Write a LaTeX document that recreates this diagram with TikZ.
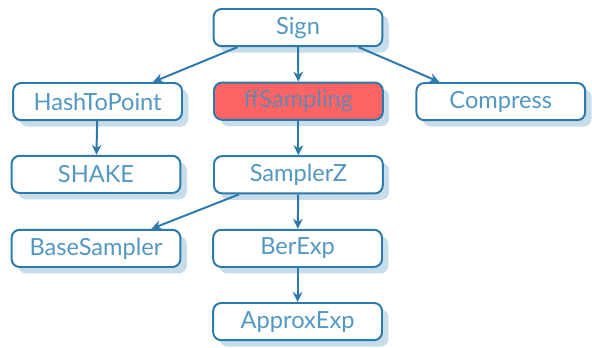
\documentclass[tikz,border=0pt]{standalone}
\usepackage{fontspec}
\setmainfont{Lato}
\usepackage{xcolor}
\usepackage{tikz}
\usetikzlibrary{arrows.meta,shadows}
\definecolor{EDGE}{HTML}{2B7AAB}
\definecolor{TXT}{HTML}{5298C3}
\definecolor{SHD}{HTML}{C7DDEA}
\definecolor{HOT}{HTML}{FF6464}
\definecolor{HOTTXT}{HTML}{6C84AE}

\begin{document}
\begin{tikzpicture}[
    fn/.style={draw=EDGE, fill=white, line width=1.4pt, rounded corners=0.2cm,
      minimum width=4.22cm, minimum height=0.93cm, inner sep=0pt,
      text=TXT, font=\fontsize{16.8}{19}\selectfont,
      drop shadow={shadow xshift=0.16cm, shadow yshift=-0.16cm, fill=SHD, opacity=1}},
    hot/.style={fn, fill=HOT, text=HOTTXT},
    arr/.style={-{Stealth[length=2.5mm,width=2.4mm,inset=0.8mm]}, EDGE, line width=1.4pt},
  ]
  \useasboundingbox (0,0) rectangle (14.8,-8.7);

  % ===== top level =====
  \node[fn]  (sign)   at (7.45, -0.69) {Sign};

  % ===== second row =====
  \node[fn]  (hash)   at (2.44, -2.54) {HashToPoint};
  \node[hot] (ffs)    at (7.46, -2.53) {ffSampling};
  \node[fn]  (comp)   at (12.52, -2.54) {Compress};

  % ===== samplers =====
  \node[fn]  (shake)  at (2.40, -4.36) {SHAKE};
  \node[fn]  (sampz)  at (7.46, -4.37) {SamplerZ};
  \node[fn]  (base)   at (2.40, -6.21) {BaseSampler};
  \node[fn]  (berexp) at (7.44, -6.21) {BerExp};
  \node[fn]  (approx) at (7.44, -8.04) {ApproxExp};

  % edges
  \draw[arr] ([xshift=0.62cm]sign.south west) -- ([xshift=-0.75cm]hash.north east);
  \draw[arr] (sign) -- (ffs);
  \draw[arr] ([xshift=-0.62cm]sign.south east) -- ([xshift=0.6cm]comp.north west);
  \draw[arr] (hash) -- (shake);
  \draw[arr] (ffs) -- (sampz);
  \draw[arr] ([xshift=0.65cm]sampz.south west) -- ([xshift=-0.75cm]base.north east);
  \draw[arr] (sampz) -- (berexp);
  \draw[arr] (berexp) -- (approx);

\end{tikzpicture}
\end{document}
